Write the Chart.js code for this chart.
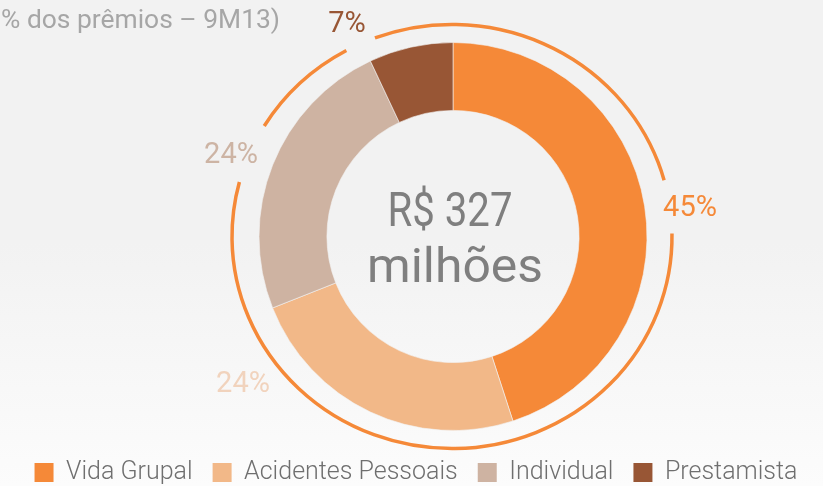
<!DOCTYPE html>
<html lang="pt">

<head>
    <meta charset="UTF-8">
    <title>Prêmios por ramo - 9M13</title>
    <script src="https://cdn.jsdelivr.net/npm/chart.js"></script>
    <style>
        body {
            margin: 0;
            padding: 0;
            background: linear-gradient(#f2f2f2 0%, #f2f2f2 50%, #fcfcfc 100%);
        }

        .chart-box {
            width: 823px;
            height: 486px;
        }
    </style>
</head>

<body>
    <div class="chart-box">
        <canvas id="premiosChart" width="823" height="486"></canvas>
    </div>

    <script>
        // data
        const categories = ['Vida Grupal', 'Acidentes Pessoais', 'Individual', 'Prestamista'];
        const shares = [45, 24, 24, 7];
        const sliceColors = ['#f58938', '#f2b888', '#ceb3a2', '#985635'];
        const labelColors = ['#f58938', '#f1d3bd', '#cdb4a4', '#985635'];
        const titleText = '% dos prêmios – 9M13)';
        const centerLines = ['R$ 327', 'milhões'];

        // where the % labels sit, relative to the doughnut centre
        const labelOffsets = [[237, -28], [-210, 148], [-222, -81], [-106, -212]];

        // draws text squeezed/stretched to a given width
        function fitText(ctx, text, x, y, width) {
            const w = ctx.measureText(text).width;
            ctx.save();
            ctx.translate(x, y);
            ctx.scale(width / w, 1);
            ctx.fillText(text, 0, 0);
            ctx.restore();
        }

        // the thin orange ring around the doughnut, broken where labels are
        const ringPlugin = {
            id: 'ring',
            beforeDatasetsDraw(chart) {
                const arc = chart.getDatasetMeta(0).data[0];
                if (!arc) return;
                const ctx = chart.ctx;
                const rx = arc.outerRadius * 1.134;
                const ry = arc.outerRadius * 1.093;
                const deg = Math.PI / 180;
                const pieces = [[-110.5, -15.4], [-0.8, 194.9], [-148.6, -118.7]];
                ctx.save();
                ctx.strokeStyle = '#f58938';
                ctx.lineWidth = 3.5;
                pieces.forEach(p => {
                    ctx.beginPath();
                    ctx.ellipse(arc.x - 1, arc.y, rx, ry, 0, p[0] * deg, p[1] * deg);
                    ctx.stroke();
                });
                ctx.restore();
            }
        };

        const textPlugin = {
            id: 'texts',
            afterDraw(chart) {
                const arc = chart.getDatasetMeta(0).data[0];
                const ctx = chart.ctx;
                ctx.save();

                // title, cut at the left edge
                ctx.font = '26px Roboto';
                ctx.fillStyle = '#a6a6a6';
                ctx.textBaseline = 'alphabetic';
                ctx.textAlign = 'left';
                fitText(ctx, titleText, 1, 28, 279);

                // centre total
                ctx.font = '48px Roboto';
                ctx.fillStyle = '#7f7f7f';
                ctx.textAlign = 'center';
                fitText(ctx, centerLines[0], arc.x - 3, arc.y - 11, 125);
                fitText(ctx, centerLines[1], arc.x + 2, arc.y + 45, 176);

                // % labels
                ctx.font = '29px Roboto';
                ctx.textBaseline = 'middle';
                shares.forEach((v, i) => {
                    ctx.fillStyle = labelColors[i];
                    ctx.fillText(v + '%', arc.x + labelOffsets[i][0], arc.y + labelOffsets[i][1]);
                });
                ctx.restore();
            }
        };

        // doughnut sits right of the page centre; legend stays full width, a bit lower
        const shiftArea = {
            id: 'shiftArea',
            afterLayout(chart) {
                const a = chart.chartArea;
                a.left = 83;
                a.width = a.right - a.left;
                const lg = chart.legend;
                lg.left = 9;
                lg.width = lg.right - lg.left;
                lg.top += 9;
                lg.bottom += 9;
            }
        };

        const defaultLabels = Chart.overrides.doughnut.plugins.legend.labels.generateLabels;

        const ctx = document.getElementById('premiosChart').getContext('2d');
        const premiosChart = new Chart(ctx, {
            type: 'doughnut',
            data: {
                labels: categories,
                datasets: [{
                    data: shares,
                    backgroundColor: sliceColors,
                    borderColor: 'rgba(242,242,242,0.6)',
                    borderWidth: 1,
                    hoverOffset: 0
                }]
            },
            options: {
                responsive: false,
                animation: false,
                cutout: '65%',
                layout: {
                    padding: { top: 42, left: 0, right: 0, bottom: 0 }
                },
                plugins: {
                    legend: {
                        position: 'bottom',
                        maxHeight: 56,
                        labels: {
                            boxWidth: 19,
                            boxHeight: 19,
                            padding: 20,
                            color: '#6f6f6f',
                            font: { family: 'Roboto', size: 25, weight: '300' },
                            generateLabels(chart) {
                                return defaultLabels(chart).map(l => {
                                    l.lineWidth = 0;
                                    return l;
                                });
                            }
                        }
                    },
                    tooltip: { enabled: false }
                }
            },
            plugins: [shiftArea, ringPlugin, textPlugin]
        });
    </script>
</body>

</html>
